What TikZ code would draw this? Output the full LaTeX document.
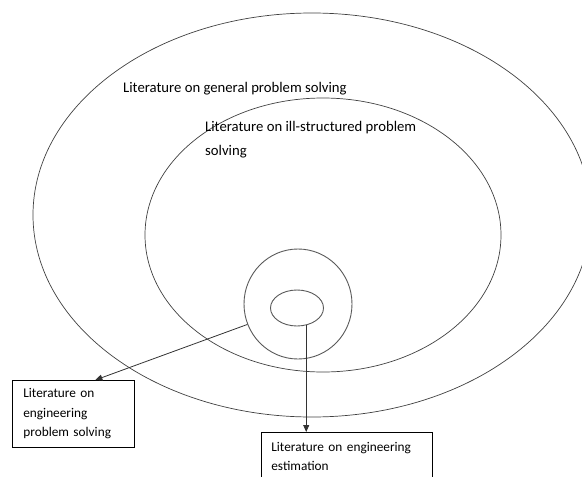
\documentclass[tikz,border=0pt]{standalone}
\usepackage{fontspec}
\setmainfont{Carlito}
\usetikzlibrary{shapes.geometric}
\usetikzlibrary{arrows.meta}
\usetikzlibrary{calc}

\begin{document}
\begin{tikzpicture}[x=1pt, y=-1pt, >={Triangle[length=7pt, width=6pt]},
  region/.style={ellipse, draw=black!75, line width=.7pt, inner sep=0},
  lit/.style={anchor=base west, inner sep=0, align=left, font=\fontsize{14.7}{24}\selectfont},
  box/.style={draw, line width=.7pt, anchor=north west, align=left, font=\fontsize{13.3}{19.4}\selectfont},
  link/.style={->, draw=black!80, line width=.8pt}]

\useasboundingbox (0,0) rectangle (582,477);
\clip (0,0) rectangle (582,477);

% nested regions
\node[region, minimum width=558pt, minimum height=404pt] (outer) at (312,215) {};
\node[region, minimum width=356pt, minimum height=274pt] (mid) at (323,235) {};
\node[region, draw=black!65, line width=.9pt, minimum width=108pt, minimum height=110pt] (sc) at (298,304) {};
\node[region, draw=black!65, line width=.9pt, minimum width=53pt, minimum height=36pt] (te) at (297,308) {};

\node[lit] (gen) at (123,92) {Literature on general problem solving};
\node[lit] (ill) at (205,155) {Literature on ill-structured problem\\solving};

% boxes
\node[box, text width=100pt, inner xsep=11pt, minimum height=67pt] (b1) at (12,380)
  {Literature on\\engineering\\problem solving};
\node[box, text width=151pt, inner xsep=10pt, inner ysep=9.5pt] (b2) at (261,432)
  {Literature on engineering\\estimation};

\draw[link] (sc.202) -- ([xshift=22pt]b1.north);
\draw[link] (te.-62) -- (te.-62 |- b2.north);
\end{tikzpicture}
\end{document}
